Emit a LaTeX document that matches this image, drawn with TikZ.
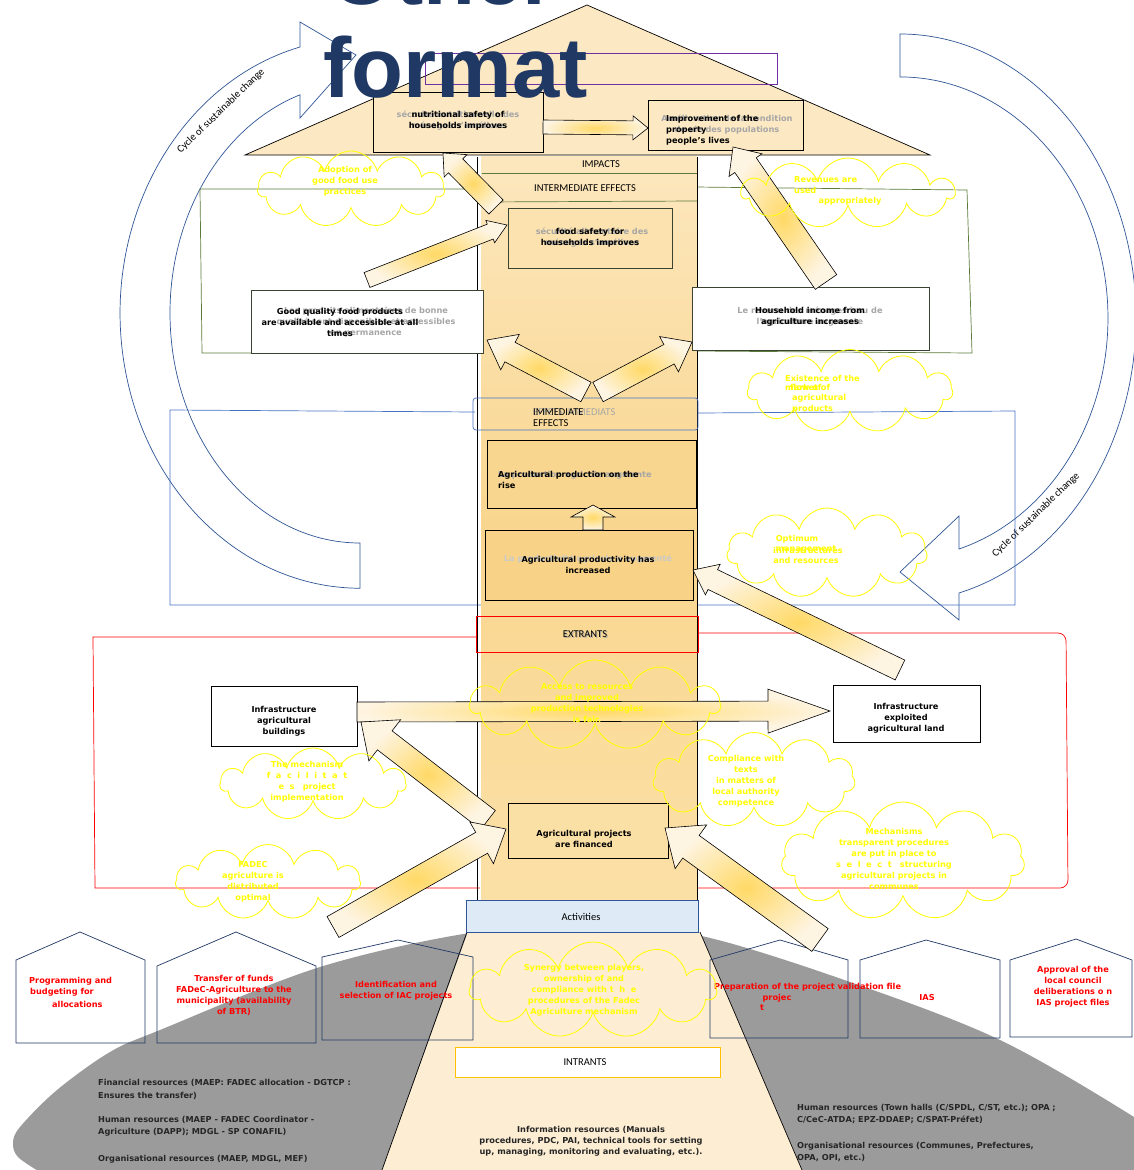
\documentclass[tikz,border=0pt]{standalone}
\usepackage{fontspec}
\setmainfont{DejaVu Sans}
\newfontfamily\calfont{Carlito}
\newfontfamily\headfont{Liberation Sans}
\usetikzlibrary{calc,shapes.symbols}

\definecolor{navy}{HTML}{1F3864}
\definecolor{arcblue}{HTML}{2F5597}
\definecolor{boxblue}{HTML}{4472C4}
\definecolor{leafgreen}{HTML}{5B7B3A}
\definecolor{darkline}{HTML}{3A4430}
\definecolor{ground}{HTML}{9B9B9B}
\definecolor{sand}{HTML}{FCE8C2}
\definecolor{sandlight}{HTML}{FDEED3}
\definecolor{sandmid}{HTML}{F9D68F}
\definecolor{sanddeep}{HTML}{F8D286}
\definecolor{sandtop}{HTML}{FCE7BE}
\definecolor{sandlow}{HTML}{FBE0A6}
\definecolor{cloudy}{HTML}{FFFF00}
\definecolor{ghost}{HTML}{A6A6A6}
\definecolor{inkred}{HTML}{FF0000}
\definecolor{actblue}{HTML}{DEEBF7}
\definecolor{amber}{HTML}{FFC000}
\definecolor{plum}{HTML}{7030A0}
\definecolor{arrowcore}{HTML}{FFD966}
\definecolor{arrowrim}{HTML}{FEF4E2}
\definecolor{resgrey}{HTML}{262626}

\newcommand\boldtxt{\bfseries\fontsize{8.2}{11}\selectfont}
\newcommand\restxt{\bfseries\fontsize{8.2}{12.5}\selectfont}
\newcommand\captxt{\calfont\fontsize{10.5}{11.5}\selectfont}

% block arrow: tail, tip, half band width, half head width, head length
\newcommand\flowarrow[5]{%
  \coordinate (hb) at ($(#2)!#5!(#1)$);
  \shadedraw[flow] ($(#1)!#3!90:(#2)$) -- ($(hb)!#3!-90:(#1)$) -- ($(hb)!#4!-90:(#1)$) -- (#2)
    -- ($(hb)!#4!90:(#1)$) -- ($(hb)!#3!90:(#1)$) -- ($(#1)!#3!-90:(#2)$) -- cycle;}

\begin{document}
\begin{tikzpicture}[x=1pt,y=-1pt,
  flow/.style={draw=black, line width=0.6pt, inner color=arrowcore, outer color=arrowrim},
  sketch/.style={draw=black, line width=0.7pt},
  grn/.style={draw=leafgreen, line width=0.7pt},
  blu/.style={draw=boxblue, line width=0.7pt},
  rd/.style={draw=inkred, line width=0.7pt},
  cyclearc/.style={draw=arcblue, line width=0.7pt},
  house/.style={draw=navy, line width=0.7pt},
  puff/.style={cloud, cloud puffs=11, cloud ignores aspect, draw=cloudy, line width=0.8pt, inner sep=0pt},
  lbl/.style={inner sep=0pt, font=\boldtxt, align=center},
  ghosttext/.style={lbl, text=ghost},
  ylw/.style={lbl, text=cloudy},
  redtxt/.style={lbl, text=inkred},
  res/.style={inner sep=0pt, font=\restxt, align=left, anchor=west, text=resgrey},
  captext/.style={inner sep=0pt, font=\captxt},
  headline/.style={inner sep=0pt, font=\headfont\bfseries\fontsize{85}{90}\selectfont, text=navy, anchor=base west}]

\useasboundingbox (0,0) rectangle (1134,1170);
\fill[white] (0,0) rectangle (1134,1170);

% ground carrying the inputs
\fill[ground] plot[smooth, tension=0.55] coordinates {(40,1172) (18,1157) (13,1143) (20,1127) (57,1090) (110,1052) (160,1030) (320,967) (476,932) (600,925) (706,937) (853,983) (1000,1040) (1134,1117) (1160,1140)}
  -- (1160,1180) -- (40,1180) -- cycle;

% cycle of sustainable change, left and right
\draw[cyclearc] (300,47) arc[start angle=255.5, end angle=90, x radius=240, y radius=275]
  -- (360,543) arc[start angle=90, end angle=251.6, x radius=190, y radius=230]
  -- (300,118) -- (356,55) -- (300,22) -- cycle;
\draw[cyclearc] (900,34) arc[start angle=270, end angle=435.5, x radius=236, y radius=284]
  -- (959,620) -- (900,572) -- (959,516) -- (959,549)
  arc[start angle=433.5, end angle=270, x radius=208, y radius=241] -- cycle;
\node[captext, rotate=44] (cycL) at (221,111) {Cycle of sustainable change};
\node[captext, rotate=44] (cycR) at (1036,515) {Cycle of sustainable change};

% result frames
\draw[grn] (480,189) -- (200,189) -- (202,353) -- (480,353);
\draw[grn] (695,187) -- (967,190) -- (972,353) -- (695,351);
\draw[blu] (475,412) -- (170,410) -- (170,605) -- (485,605);
\draw[blu] (698,413) -- (1015,411) -- (1015,605) -- (697,605);
\draw[rd] (476,637) -- (93,637) -- (95,888) -- (480,888);
\draw[rd, rounded corners=8] (698,633) -- (1066,633) -- (1068,888) -- (697,888);

% arrow head of the chain
\filldraw[fill=sand, draw=black, line width=0.7pt] (245,155) -- (587,5) -- (930,155) -- cycle;
\draw[plum, line width=0.7pt] (425,53) rectangle (777,84);

% shaft
\shade[top color=sandtop, bottom color=sandlow, middle color=sandmid] (481,156) rectangle (697,900);
\draw[black, line width=0.7pt] (477,157) -- (477,900);
\draw[black, line width=0.7pt] (697,157) -- (697,900);
\fill[sandlight] (468,932) -- (700,932) -- (802,1170) -- (382,1170) -- cycle;
\draw[black, line width=0.7pt] (467,932) -- (382,1170);
\draw[black, line width=0.7pt] (700,932) -- (802,1170);

% impacts
\draw[sketch, fill=sand] (373,92) rectangle (543,152);
\draw[sketch, fill=sand] (648,100) rectangle (803,150);
\node[ghosttext] (g1) at (458,121) {sécurité nutritionnelle des\\ménages s'améliore};
\node[lbl] (t1) at (458,121) {nutritional safety of\\households improves};
\node[ghosttext] (g2) at (727,125) {Amélioration de la condition\\de vie des populations};
\node[lbl, align=left, anchor=west] (t2) at (666,130) {Improvement of the\\property\\people's lives};

% intermediate effects
\draw[grn] (482,173) -- (697,173);
\draw[grn] (482,202) -- (697,201);
\node[captext] (imp) at (601,164) {IMPACTS};
\node[captext] (inter) at (585,188) {INTERMEDIATE EFFECTS};
\draw[draw=darkline, line width=0.7pt, fill=sandlow!70!sand] (508,208) rectangle (672,268);
\node[ghosttext] (g3) at (592,238) {sécurité alimentaire des\\ménages s'améliore};
\node[lbl] (t3) at (590,238) {food safety for\hspace{2.5em}\\households improves};
\draw[draw=darkline, line width=0.7pt, fill=white] (251,290) rectangle (483,353);
\node[ghosttext] (g4) at (366,322) {Les produits alimentaires de bonne\\qualité sont disponibles et accessibles\\en permanence};
\node[lbl] (t4) at (340,322) {Good quality food products\\are available and accessible at all\\times};
\draw[draw=darkline, line width=0.7pt, fill=white] (692,287) rectangle (929,350);
\node[ghosttext] (g5) at (810,317) {Le revenu des ménages issu de\\l'agriculture augmente};
\node[lbl] (t5) at (810,317) {Household income from\\agriculture increases};

% immediate effects
\draw[blu, rounded corners=3] (473,398) rectangle (698,430);
\node[captext, text=ghost, anchor=west] (g6) at (533,412) {EFFETS IMMEDIATS};
\node[captext, align=left, anchor=west] (imm) at (533,417.5) {IMMEDIATE\\EFFECTS};
\draw[sketch, fill=sandmid] (487,440) rectangle (696,508);
\node[ghosttext, anchor=west] (g7) at (498,475) {La production agricole augmente};
\node[lbl, align=left, anchor=west] (t7) at (498,480) {Agricultural production on the\\rise};
\draw[sketch, fill=sanddeep] (485,530) rectangle (693,600);
\node[ghosttext, text=ghost!60] (g8) at (588,559) {La productivité agricole a augmenté};
\node[lbl] (t8) at (588,565) {Agricultural productivity has\\increased};

% outputs
\draw[rd] (476,616) rectangle (698,652);
\node[captext, text=ghost] (ext0) at (586,635) {EXTRANTS};
\node[captext] (ext) at (585,634) {EXTRANTS};
\draw[sketch, fill=white] (211,686) rectangle (357,746);
\node[lbl] (t9) at (284,721) {Infrastructure\\agricultural\\buildings};
\draw[sketch, fill=white] (833,685) rectangle (980,742);
\node[lbl] (t10) at (906,718) {Infrastructure\\exploited\\agricultural land};
\draw[sketch, fill=sandlow] (508,803) rectangle (668,858);
\node[lbl] (t11) at (584,839) {Agricultural projects\\are financed};

% activities and inputs
\draw[draw=arcblue, line width=0.7pt, fill=actblue] (466,900) rectangle (698,932);
\node[captext] (act) at (581,917) {Activities};
\draw[draw=amber, line width=0.8pt, fill=white] (455,1047) rectangle (720,1077);
\node[captext] (inp) at (585,1062) {INTRANTS};
\node[lbl, text=resgrey] (info) at (591,1141) {Information resources (Manuals\\procedures, PDC, PAI, technical tools for setting\\up, managing, monitoring and evaluating, etc.).};
\node[res] (rs1) at (98,1089.5) {Financial resources (MAEP: FADEC allocation - DGTCP :\\Ensures the transfer)};
\node[res] (rs2) at (98,1126.5) {Human resources (MAEP - FADEC Coordinator -\\Agriculture (DAPP); MDGL - SP CONAFIL)};
\node[res] (rs3) at (98,1159) {Organisational resources (MAEP, MDGL, MEF)};
\node[res] (rs4) at (797,1114) {Human resources (Town halls (C/SPDL, C/ST, etc.); OPA ;\\C/CeC-ATDA; EPZ-DDAEP; C/SPAT-Préfet)};
\node[res] (rs5) at (797,1152) {Organisational resources (Communes, Prefectures,\\OPA, OPI, etc.)};

% activity houses
\draw[house] (16,960) -- (80,932) -- (145,960) -- (145,1043) -- (16,1043) -- cycle;
\draw[house] (157,966) -- (236,932) -- (316,966) -- (316,1043) -- (157,1043) -- cycle;
\draw[house] (322,957) -- (398,940) -- (473,957) -- (473,1040) -- (322,1040) -- cycle;
\draw[house] (710,960) -- (780,940) -- (848,960) -- (848,1038) -- (710,1038) -- cycle;
\draw[house] (860,960) -- (926,940) -- (1000,960) -- (1000,1038) -- (860,1038) -- cycle;
\draw[house] (1010,960) -- (1076,939) -- (1132,960) -- (1132,1037) -- (1010,1037) -- cycle;
\node[redtxt, anchor=west] (h1a) at (29,981) {Programming and};
\node[redtxt, anchor=west] (h1b) at (30,992) {budgeting for};
\node[redtxt, anchor=west] (h1c) at (52,1004) {allocations};
\node[redtxt] (h2) at (234,995.5) {Transfer of funds\\FADeC-Agriculture to the\\municipality (availability\\of BTR)};
\node[redtxt] (h3) at (396,990.5) {Identification and\\selection of IAC projects};
\node[redtxt, anchor=west] (h4) at (714,987) {Preparation of the project validation file};
\node[redtxt] (h4b) at (777,998) {projec};
\node[redtxt] (h4c) at (762,1008) {t};
\node[redtxt] (h5) at (927,998) {IAS};
\node[redtxt] (h6) at (1073,986.5) {Approval of the\\local council\\deliberations o n\\IAS project files};

% causal arrows
\coordinate (a1s) at (543,127); \coordinate (a1t) at (648,128);
\flowarrow{a1s}{a1t}{7pt}{12pt}{15pt}
\coordinate (a2s) at (496,207); \coordinate (a2t) at (443,153);
\flowarrow{a2s}{a2t}{10pt}{16pt}{18pt}
\coordinate (a3s) at (367,280); \coordinate (a3t) at (507,225);
\flowarrow{a3s}{a3t}{8pt}{12pt}{18pt}
\coordinate (a4s) at (826,282); \coordinate (a4t) at (733,147);
\flowarrow{a4s}{a4t}{13pt}{20pt}{22pt}
\coordinate (a5s) at (586,392); \coordinate (a5t) at (487,340);
\flowarrow{a5s}{a5t}{11pt}{20pt}{26pt}
\coordinate (a6s) at (598,392); \coordinate (a6t) at (692,342);
\flowarrow{a6s}{a6t}{11pt}{20pt}{26pt}
\coordinate (a7s) at (593,530); \coordinate (a7t) at (593,505);
\flowarrow{a7s}{a7t}{10pt}{22pt}{12pt}
\coordinate (a8s) at (900,670); \coordinate (a8t) at (693,570);
\flowarrow{a8s}{a8t}{11pt}{17pt}{22pt}
\coordinate (a9s) at (357,712); \coordinate (a9t) at (830,711);
\flowarrow{a9s}{a9t}{10pt}{22pt}{62pt}
\coordinate (a10s) at (488,820); \coordinate (a10t) at (361,722);
\flowarrow{a10s}{a10t}{12pt}{26pt}{30pt}
\coordinate (a11s) at (333,927); \coordinate (a11t) at (506,829);
\flowarrow{a11s}{a11t}{12pt}{24pt}{28pt}
\coordinate (a12s) at (820,940); \coordinate (a12t) at (665,828);
\flowarrow{a12s}{a12t}{14pt}{27pt}{32pt}

% assumptions
\node[puff, minimum width=187pt, minimum height=76pt] (c1) at (351,189) {};
\node[ylw] (y1) at (345,181) {Adoption of\\good food use\\practices};
\node[puff, minimum width=213pt, minimum height=70pt] (c2) at (848,193) {};
\node[ylw, align=left, anchor=west] (y2) at (794,185) {Revenues are\\used};
\node[ylw] (y2b) at (850,201) {appropriately};
\node[puff, minimum width=205pt, minimum height=83pt] (c3) at (850,391) {};
\node[ylw, anchor=west] (y3) at (785,378) {Existence of the};
\node[ylw, anchor=west] (y3b) at (785,387) {market of};
\node[ylw, anchor=west] (y3c) at (790,387) {flow of};
\node[ylw, align=left, anchor=west] (y3d) at (792,403.5) {agricultural\\products};
\node[puff, minimum width=200pt, minimum height=90pt] (c4) at (827,553) {};
\node[ylw] (y4) at (797,539) {Optimum};
\node[ylw] (y4b) at (806,549) {management};
\node[ylw] (y4c) at (808,550) {infrastructures};
\node[ylw] (y4d) at (806,560) {and resources};
\node[puff, minimum width=250pt, minimum height=90pt] (c5) at (595,705) {};
\node[ylw] (y5) at (587,703) {Access to resources\\and improved\\production technologies\\is fair.};
\node[puff, minimum width=186pt, minimum height=72pt] (c6) at (313,784) {};
\node[ylw] (y6) at (307,781.5) {The mechanism\\f\,\, a\,\, c\,\, i\,\, l\,\, i\,\, t\,\, a\,\, t\\e\,\, s\quad project\\implementation};
\node[puff, minimum width=202pt, minimum height=95pt] (c7) at (754,780) {};
\node[ylw] (y7) at (746,781.5) {Compliance with\\texts\\in matters of\\local authority\\competence};
\node[puff, minimum width=185pt, minimum height=75pt] (c8) at (268,882) {};
\node[ylw] (y8) at (253,882) {FADEC\\agriculture is\\distributed\\optimal};
\node[puff, minimum width=243pt, minimum height=118pt] (c9) at (903,861) {};
\node[ylw] (y9) at (894,859) {Mechanisms\\transparent procedures\\are put in place to\\s\,\, e\,\, l\,\, e\,\, c\,\, t\quad structuring\\agricultural projects in\\communes};
\node[puff, minimum width=247pt, minimum height=96pt] (c10) at (593,990) {};
\node[ylw] (y10) at (584,990) {Synergy between players,\\ownership of and\\compliance with t\,\, h\,\, e\\procedures of the Fadec\\Agriculture mechanism};

% heading
\node[headline] (hdA) at (329,4) {Other};
\node[headline] (hdB) at (323,97) {format};
\end{tikzpicture}
\end{document}
